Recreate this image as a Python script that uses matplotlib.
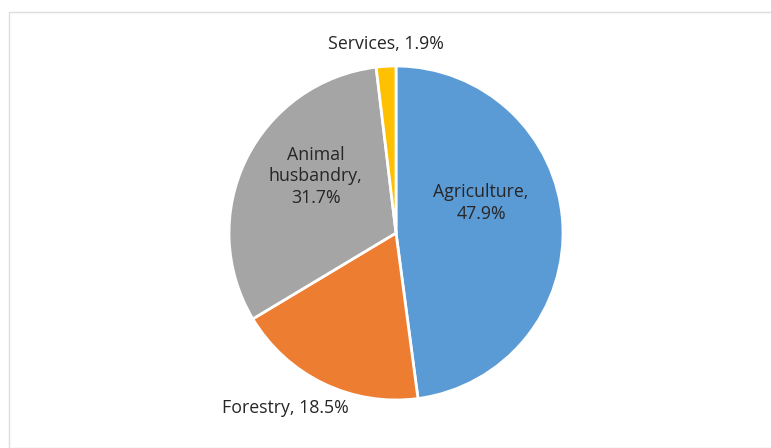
import matplotlib.pyplot as plt
from matplotlib.patches import Rectangle

# Data
sectors = ["Agriculture", "Forestry", "Animal\nhusbandry", "Services"]
shares = [47.9, 18.5, 31.7, 1.9]
colors = ["#5B9BD5", "#ED7D31", "#A5A5A5", "#FFC000"]
# label anchor positions (pie radius units)
label_pos = [(0.51, 0.18), (-0.66, -1.05), (-0.48, 0.34), (-0.06, 1.13)]
label_sep = [",\n", ", ", ",\n", ", "]

plt.rcParams['font.family'] = ['Open Sans', 'DejaVu Sans']

fig = plt.figure(figsize=(7.71, 4.48), dpi=100)
W, H = 771, 448
cx, cy, r = 396, 233, 167
ax = fig.add_axes([(cx - r) / W, (H - cy - r) / H, 2 * r / W, 2 * r / H])

ax.pie(
    shares,
    colors=colors,
    startangle=90,
    counterclock=False,
    radius=1,
    wedgeprops={'edgecolor': 'white', 'linewidth': 2},
)
ax.set_xlim(-1, 1)
ax.set_ylim(-1, 1)
ax.set_aspect('equal')

for name, val, (x, y), sep in zip(sectors, shares, label_pos, label_sep):
    ax.text(x, y, f"{name}{sep}{val}%", ha='center', va='center',
            fontsize=12.8, color='#262626', linespacing=1.25, clip_on=False)

# chart area border
fig.patches.append(Rectangle((8.5 / W, 0), 1.0, 1 - 12.5 / H,
                             transform=fig.transFigure, fill=False,
                             edgecolor='#DDDDDD', linewidth=1.0))

plt.savefig("out.png", dpi=100)
